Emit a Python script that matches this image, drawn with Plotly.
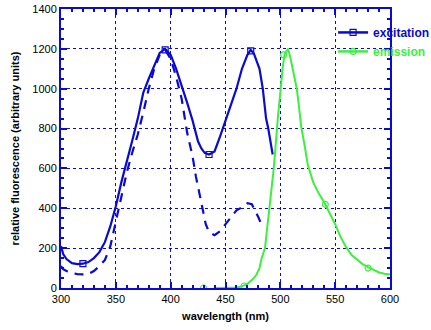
import plotly.graph_objects as go

# ---- data ----
exc_x = [300, 302, 305, 310, 315, 320, 325, 330, 335, 340, 345, 350, 355, 360, 365, 370,
         375, 380, 385, 390, 395, 400, 405, 410, 415, 420, 425, 428, 431, 435, 440, 445,
         450, 455, 460, 465, 470, 473, 476, 479, 481, 484, 487, 489, 491, 493]
exc_y = [210, 170, 145, 125, 120, 122, 130, 150, 180, 230, 310, 410, 530, 630, 740, 850,
         980, 1050, 1120, 1180, 1200, 1170, 1100, 1020, 930, 840, 735, 700, 678, 670, 685, 760,
         840, 930, 1000, 1100, 1170, 1195, 1175, 1130, 1100, 1000, 850, 800, 730, 670]

dash_x = [300, 302, 305, 310, 315, 320, 325, 330, 335, 340, 345, 350, 355, 360, 365, 370,
          375, 378, 380, 385, 390, 395, 400, 405, 410, 415, 420, 423, 426, 429, 432, 435,
          440, 445, 450, 455, 460, 465, 470, 474, 477, 480, 483]
dash_y = [110, 95, 85, 75, 70, 68, 70, 85, 110, 140, 210, 330, 460, 580, 680, 770,
          880, 950, 1000, 1100, 1170, 1195, 1150, 1060, 950, 780, 660, 560, 480, 400, 320, 280,
          265, 285, 320, 360, 390, 405, 425, 420, 390, 355, 315]

em_x = [441, 450, 460, 465, 470, 475, 478, 481, 483, 486, 488, 490, 492, 494, 496, 498,
        500, 502, 504, 507, 509, 511, 513, 515, 517, 519, 522, 525, 530, 535, 540, 545,
        550, 555, 560, 565, 570, 575, 580, 585, 590, 595, 600]
em_y = [0, 0, 2, 8, 20, 45, 65, 100, 150, 200, 290, 400, 500, 600, 760, 870,
        980, 1100, 1175, 1200, 1160, 1100, 1050, 1000, 910, 810, 720, 620, 530, 475, 430, 375,
        320, 255, 205, 165, 140, 120, 105, 90, 78, 72, 68]

exc_mark_x = [320, 395, 435, 473]
exc_mark_y = [122, 1195, 670, 1190]
em_mark_x = [430, 467, 503, 541, 580]
em_mark_y = [0, 10, 1170, 420, 100]

x_ticks = [300, 350, 400, 450, 500, 550, 600]
y_ticks = [0, 200, 400, 600, 800, 1000, 1200, 1400]

BLUE = "#0a0ad2"
GREEN = "#3cf03c"
FONT = "Liberation Sans, Arial, sans-serif"

fig = go.Figure()
fig.add_trace(go.Scatter(x=exc_x, y=exc_y, mode="lines", line=dict(color=BLUE, width=2.2),
                         showlegend=False, hoverinfo="skip"))
fig.add_trace(go.Scatter(x=dash_x, y=dash_y, mode="lines",
                         line=dict(color=BLUE, width=2.2, dash="9px,7px"),
                         showlegend=False, hoverinfo="skip"))
fig.add_trace(go.Scatter(x=em_x, y=em_y, mode="lines", line=dict(color=GREEN, width=2),
                         showlegend=False, hoverinfo="skip"))
fig.add_trace(go.Scatter(x=exc_mark_x, y=exc_mark_y, mode="markers",
                         marker=dict(symbol="square-open", size=6, color=BLUE, line=dict(width=1.2)),
                         showlegend=False, hoverinfo="skip"))
fig.add_trace(go.Scatter(x=em_mark_x, y=em_mark_y, mode="markers",
                         marker=dict(symbol="circle-open", size=6, color=GREEN, line=dict(width=1.2)),
                         showlegend=False, hoverinfo="skip"))
# legend entries
fig.add_trace(go.Scatter(x=[None], y=[None], mode="lines+markers",
                         name=f"<span style='color:{BLUE}'><b>excitation</b></span>",
                         line=dict(color=BLUE, width=2.5),
                         marker=dict(symbol="square-open", size=6, color=BLUE, line=dict(width=1.2))))
fig.add_trace(go.Scatter(x=[None], y=[None], mode="lines+markers",
                         name=f"<span style='color:{GREEN}'><b>emission</b></span>",
                         line=dict(color=GREEN, width=2.5),
                         marker=dict(symbol="circle-open", size=6, color=GREEN, line=dict(width=1.2))))

axis_common = dict(
    showline=True, linecolor=BLUE, linewidth=2, mirror="ticks",
    ticks="inside", ticklen=6, tickcolor=BLUE, tickwidth=1.5,
    showgrid=True, gridcolor=BLUE, griddash="dot", gridwidth=1,
    zeroline=False, tickfont=dict(family=FONT, size=11, color="black"),
)

fig.update_xaxes(range=[300, 600], tickvals=x_ticks,
                 minor=dict(dtick=10, ticks="inside", ticklen=3, tickcolor=BLUE, showgrid=False),
                 title=dict(text="<b>wavelength (nm)</b>", font=dict(family=FONT, size=11, color="black"),
                            standoff=8),
                 **axis_common)
fig.update_yaxes(range=[0, 1400], tickvals=y_ticks,
                 minor=dict(dtick=50, ticks="inside", ticklen=3, tickcolor=BLUE, showgrid=False),
                 title=dict(text="<b>relative fluorescence (arbitrary units)</b>",
                            font=dict(family=FONT, size=11, color="black"), standoff=10),
                 **axis_common)

fig.update_layout(
    width=431, height=330,
    margin=dict(l=61, r=41, t=9, b=42, autoexpand=False),
    paper_bgcolor="white", plot_bgcolor="white",
    legend=dict(x=0.827, y=0.968, xanchor="left", yanchor="top",
                bgcolor="rgba(0,0,0,0)", font=dict(family=FONT, size=12),
                tracegroupgap=0),
)

fig.write_html("out.html")
